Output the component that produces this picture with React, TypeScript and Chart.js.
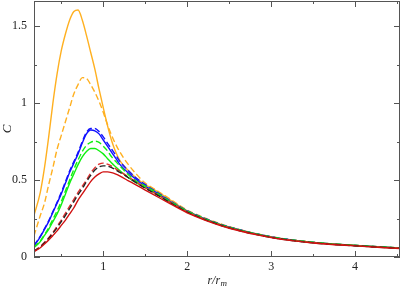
import React, { useEffect, useRef } from "react";
import { Chart, registerables } from "chart.js";

Chart.register(...registerables);

const xVals = [0.175, 0.25, 0.3, 0.35, 0.4, 0.45, 0.5, 0.55, 0.6, 0.65, 0.7, 0.75, 0.8, 0.85, 0.9, 0.95, 1.0, 1.05, 1.1, 1.15, 1.2, 1.3, 1.4, 1.5, 1.6, 1.8, 2.0, 2.25, 2.5, 3.0, 3.5, 4.0, 4.535];

const orangeSolid = [0.27, 0.42, 0.58, 0.78, 1.0, 1.19, 1.34, 1.45, 1.54, 1.595, 1.605, 1.54, 1.44, 1.33, 1.22, 1.09, 0.97, 0.855, 0.755, 0.68, 0.625, 0.56, 0.51, 0.47, 0.44, 0.37, 0.3, 0.24, 0.195, 0.13, 0.095, 0.075, 0.058];
const orangeDashed = [0.137, 0.27, 0.35, 0.47, 0.58, 0.7, 0.79, 0.88, 0.97, 1.06, 1.12, 1.165, 1.16, 1.12, 1.07, 1.01, 0.94, 0.86, 0.79, 0.73, 0.68, 0.6, 0.535, 0.48, 0.445, 0.375, 0.305, 0.245, 0.197, 0.132, 0.096, 0.076, 0.059];
const blueSolid = [0.072, 0.13, 0.18, 0.23, 0.29, 0.35, 0.41, 0.48, 0.55, 0.61, 0.67, 0.74, 0.8, 0.825, 0.82, 0.8, 0.76, 0.72, 0.68, 0.64, 0.6, 0.545, 0.5, 0.46, 0.43, 0.36, 0.298, 0.24, 0.193, 0.13, 0.094, 0.075, 0.058];
const blueDashed = [0.075, 0.135, 0.185, 0.235, 0.295, 0.355, 0.42, 0.49, 0.56, 0.62, 0.68, 0.75, 0.81, 0.835, 0.835, 0.815, 0.78, 0.74, 0.7, 0.66, 0.62, 0.56, 0.51, 0.47, 0.435, 0.365, 0.3, 0.242, 0.195, 0.131, 0.095, 0.075, 0.058];
const greenSolid = [0.06, 0.1, 0.14, 0.18, 0.23, 0.28, 0.34, 0.41, 0.48, 0.54, 0.6, 0.65, 0.685, 0.705, 0.705, 0.69, 0.67, 0.64, 0.61, 0.585, 0.56, 0.515, 0.48, 0.45, 0.42, 0.355, 0.295, 0.238, 0.192, 0.129, 0.094, 0.075, 0.058];
const greenDashed = [0.063, 0.105, 0.145, 0.19, 0.245, 0.3, 0.36, 0.43, 0.5, 0.57, 0.63, 0.685, 0.725, 0.745, 0.752, 0.745, 0.72, 0.69, 0.65, 0.62, 0.59, 0.535, 0.49, 0.46, 0.43, 0.36, 0.298, 0.24, 0.193, 0.13, 0.095, 0.075, 0.058];
const redSolid = [0.035, 0.06, 0.085, 0.11, 0.14, 0.17, 0.205, 0.24, 0.28, 0.32, 0.37, 0.41, 0.45, 0.49, 0.52, 0.54, 0.553, 0.553, 0.548, 0.538, 0.525, 0.495, 0.465, 0.435, 0.405, 0.345, 0.287, 0.232, 0.187, 0.126, 0.091, 0.072, 0.055];
const redDashed = [0.04, 0.068, 0.095, 0.125, 0.16, 0.2, 0.24, 0.285, 0.33, 0.375, 0.42, 0.46, 0.5, 0.545, 0.58, 0.603, 0.61, 0.603, 0.59, 0.573, 0.555, 0.52, 0.485, 0.45, 0.42, 0.355, 0.293, 0.236, 0.19, 0.128, 0.093, 0.074, 0.057];
const blackDashed = [0.038, 0.065, 0.092, 0.12, 0.155, 0.19, 0.23, 0.27, 0.315, 0.36, 0.405, 0.445, 0.49, 0.53, 0.565, 0.585, 0.592, 0.59, 0.58, 0.565, 0.55, 0.515, 0.48, 0.447, 0.417, 0.352, 0.291, 0.235, 0.189, 0.127, 0.092, 0.073, 0.056];

const xMajorTicks = [1, 2, 3, 4];
const xMinorTicks = [0.5, 1.5, 2.5, 3.5, 4.5];
const yMajorTicks = [0, 0.5, 1, 1.5];
const yMinorTicks = [0.25, 0.75, 1.25];

const X_MIN = 0.175;
const X_MAX = 4.535;
const Y_MIN = 0;
const Y_MAX = 1.663;

const ORANGE = "#ffb020";
const BLUE = "#1010ff";
const GREEN = "#10f010";
const RED = "#d01010";
const RED2 = "#e03030";
const BLACK = "#222222";
const AXIS = "#555555";
const FONT = "'Liberation Serif', 'DejaVu Serif', serif";

function pts(ys: number[]) {
  return xVals.map((x, i) => ({ x, y: ys[i] }));
}

const ticksPlugin = {
  id: "inwardTicks",
  afterDraw(chart: any) {
    const { ctx, chartArea, scales } = chart;
    const xs = scales.x;
    const ys = scales.y;
    ctx.save();
    ctx.strokeStyle = AXIS;
    ctx.lineWidth = 1;
    ctx.beginPath();
    const drawX = (v: number, len: number) => {
      const px = Math.round(xs.getPixelForValue(v)) + 0.5;
      ctx.moveTo(px, chartArea.bottom);
      ctx.lineTo(px, chartArea.bottom - len);
      ctx.moveTo(px, chartArea.top);
      ctx.lineTo(px, chartArea.top + len);
    };
    const drawY = (v: number, len: number) => {
      const py = Math.round(ys.getPixelForValue(v)) + 0.5;
      ctx.moveTo(chartArea.left, py);
      ctx.lineTo(chartArea.left + len, py);
      ctx.moveTo(chartArea.right, py);
      ctx.lineTo(chartArea.right - len, py);
    };
    xMajorTicks.forEach((v) => drawX(v, 6));
    xMinorTicks.forEach((v) => drawX(v, 3));
    yMajorTicks.forEach((v) => drawY(v, 6));
    yMinorTicks.forEach((v) => drawY(v, 3));
    ctx.stroke();
    ctx.strokeRect(chartArea.left + 0.5, chartArea.top + 0.5, chartArea.right - chartArea.left - 1, chartArea.bottom - chartArea.top - 1);

    const cx = (chartArea.left + chartArea.right) / 2;
    const ty = chartArea.bottom + 27;
    ctx.fillStyle = "#222";
    ctx.textBaseline = "alphabetic";
    ctx.font = `italic 12px ${FONT}`;
    const main = "r/r";
    const sub = "m";
    const w1 = ctx.measureText(main).width;
    ctx.font = `italic 9px ${FONT}`;
    const w2 = ctx.measureText(sub).width;
    const start = cx - (w1 + w2) / 2;
    ctx.font = `italic 12px ${FONT}`;
    ctx.textAlign = "left";
    ctx.fillText(main, start, ty);
    ctx.font = `italic 9px ${FONT}`;
    ctx.fillText(sub, start + w1 + 0.5, ty + 2);
    ctx.restore();
  },
};

function ds(label: string, data: number[], color: string, dashed: boolean) {
  return {
    label,
    data: pts(data),
    borderColor: color,
    backgroundColor: color,
    borderWidth: 1.4,
    borderDash: dashed ? [6, 3] : [],
    pointRadius: 0,
    fill: false,
    cubicInterpolationMode: "monotone" as const,
  };
}

export default function App() {
  const ref = useRef<HTMLCanvasElement>(null);
  useEffect(() => {
    document.body.style.margin = "0";
    const chart = new Chart(ref.current!, {
      type: "line",
      data: {
        datasets: [
          ds("red solid", redSolid, RED, false),
          ds("black dashed", blackDashed, BLACK, true),
          ds("red dashed", redDashed, RED2, true),
          ds("green solid", greenSolid, GREEN, false),
          ds("green dashed", greenDashed, GREEN, true),
          ds("blue solid", blueSolid, BLUE, false),
          ds("blue dashed", blueDashed, BLUE, true),
          ds("orange dashed", orangeDashed, ORANGE, true),
          ds("orange solid", orangeSolid, ORANGE, false),
        ],
      },
      options: {
        animation: false,
        responsive: false,
        maintainAspectRatio: false,
        layout: { padding: { top: 1, right: 2, left: 0, bottom: 0 } },
        plugins: { legend: { display: false }, tooltip: { enabled: false } },
        scales: {
          x: {
            type: "linear",
            min: X_MIN,
            max: X_MAX,
            afterBuildTicks: (s: any) => {
              s.ticks = xMajorTicks.map((v) => ({ value: v }));
            },
            afterFit: (s: any) => {
              s.height = 31;
              s.paddingLeft = 0;
              s.paddingRight = 0;
            },
            grid: { display: false, drawTicks: false },
            border: { display: false },
            ticks: {
              padding: 3,
              color: "#222",
              font: { family: FONT, size: 12 },
              callback: (v: any) => String(v),
            },
          },
          y: {
            type: "linear",
            min: Y_MIN,
            max: Y_MAX,
            afterBuildTicks: (s: any) => {
              s.ticks = yMajorTicks.map((v) => ({ value: v }));
            },
            afterFit: (s: any) => {
              s.width = 34;
              s.paddingTop = 0;
              s.paddingBottom = 0;
            },
            grid: { display: false, drawTicks: false },
            border: { display: false },
            title: {
              display: true,
              text: "C",
              color: "#222",
              font: { family: FONT, size: 13, style: "italic" },
              padding: { top: 0, bottom: 0 },
            },
            ticks: {
              padding: 7,
              color: "#222",
              font: { family: FONT, size: 12 },
              callback: (v: any) => String(v),
            },
          },
        },
      },
      plugins: [ticksPlugin],
    });
    return () => chart.destroy();
  }, []);
  return <canvas ref={ref} width={402} height={288} style={{ display: "block" }} />;
}
